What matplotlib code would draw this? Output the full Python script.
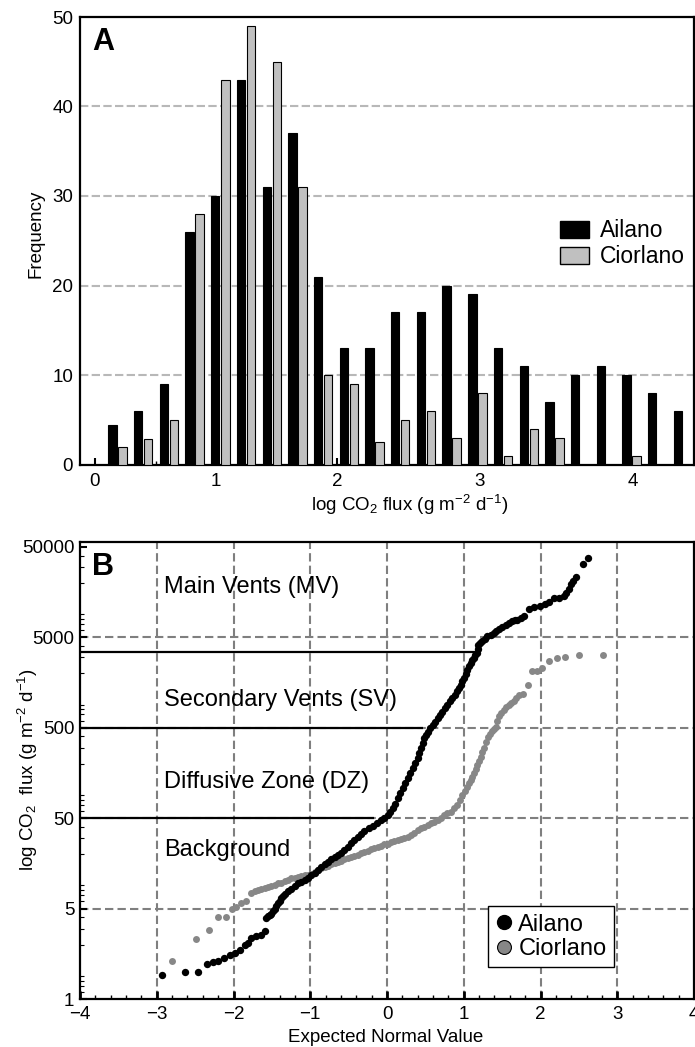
import numpy as np
import matplotlib
matplotlib.use("Agg")
import matplotlib.pyplot as plt
from matplotlib.patches import Patch
from matplotlib.lines import Line2D
from matplotlib.ticker import FixedLocator, MultipleLocator, NullFormatter

plt.rcParams["font.family"] = ["Liberation Sans", "DejaVu Sans"]
plt.rcParams["mathtext.fontset"] = "custom"
plt.rcParams["mathtext.rm"] = "Liberation Sans"
plt.rcParams["mathtext.it"] = "Liberation Sans:italic"
plt.rcParams["mathtext.bf"] = "Liberation Sans:bold"

# ============================
# Donnees – A : histogramme des flux
# ============================
ailano_freq = [4.4, 6, 9, 26, 30, 43, 31, 37, 21, 13, 13, 17,
               17, 20, 19, 13, 11, 7, 10, 11, 10, 8, 6]
ciorlano_freq = [2, 2.8, 5, 28, 43, 49, 45, 31, 10, 9, 2.5, 5,
                 6, 3, 8, 1, 4, 3, 0, 0, 1, 0, 0]
bin_ticks = [-0.88, 3.84, 8.55, 14.07, 20.03]
bin_tick_labels = ["0", "1", "2", "3", "4"]

# ============================
# Donnees – B : droite de Henry (valeur normale attendue)
# ============================
ailano_q = [-2.935, -2.632, -2.468, -2.351, -2.264, -2.199, -2.121, -2.048,
            -1.983, -1.918, -1.853, -1.810, -1.766, -1.701, -1.636, -1.593,
            -1.571, -1.550, -1.528, -1.506, -1.485, -1.463, -1.442, -1.420,
            -1.398, -1.377, -1.355, -1.333, -1.290, -1.247, -1.204, -1.160,
            -1.117, -1.074, -1.030, -0.987, -0.944, -0.900, -0.857, -0.814,
            -0.770, -0.727, -0.684, -0.641, -0.598, -0.554, -0.511, -0.468,
            -0.425, -0.381, -0.338, -0.294, -0.240, -0.186, -0.132, -0.078,
            -0.035, 0.009, 0.041, 0.074, 0.106, 0.139, 0.171, 0.203,
            0.236, 0.268, 0.300, 0.333, 0.365, 0.398, 0.420, 0.442,
            0.463, 0.485, 0.507, 0.528, 0.560, 0.593, 0.625, 0.658,
            0.690, 0.723, 0.755, 0.788, 0.820, 0.853, 0.885, 0.918,
            0.940, 0.961, 0.983, 1.004, 1.026, 1.048, 1.070, 1.091,
            1.113, 1.134, 1.152, 1.169, 1.180, 1.190, 1.216, 1.242,
            1.275, 1.307, 1.350, 1.394, 1.426, 1.459, 1.502, 1.545,
            1.589, 1.632, 1.665, 1.697, 1.740, 1.784, 1.848, 1.913,
            1.991, 2.065, 2.113, 2.182, 2.238, 2.303, 2.338, 2.368,
            2.398, 2.424, 2.459, 2.554, 2.619]
ailano_flux = [0.91, 0.99, 0.99, 1.22, 1.28, 1.30, 1.42, 1.52,
               1.61, 1.76, 1.96, 2.08, 2.36, 2.47, 2.58, 2.80,
               3.9, 4.1, 4.2, 4.4, 4.7, 5.0, 5.3, 5.7,
               6.1, 6.5, 6.9, 7.3, 7.8, 8.3, 8.9, 9.5,
               9.9, 10.3, 11.0, 11.7, 12.5, 13.3, 14.3, 15.4,
               16.5, 17.6, 18.5, 19.5, 20.8, 22.1, 24.1, 26.3,
               28.6, 31.1, 33.5, 36.0, 38.5, 41.2, 44.3, 47.6,
               50.7, 54.1, 58.8, 64.1, 72.5, 82.8, 94, 107,
               121, 138, 157, 178, 203, 230, 262, 297,
               337, 383, 417, 453, 493, 537, 585, 637,
               693, 755, 823, 896, 975, 1060, 1155, 1260,
               1370, 1490, 1625, 1770, 1970, 2190, 2390, 2600,
               2770, 2950, 3150, 3350, 3700, 4070, 4280, 4510,
               4810, 5130, 5350, 5580, 5900, 6240, 6560, 6900,
               7200, 7510, 7670, 7840, 8180, 8530, 10400, 10700,
               11200, 11800, 12300, 13600, 13600, 14200, 15500, 17300,
               19200, 21200, 23100, 32700, 37800]

ciorlano_q = [-2.797, -2.489, -2.320, -2.199, -2.104, -2.026, -1.961, -1.896,
              -1.831, -1.766, -1.723, -1.680, -1.636, -1.593, -1.550, -1.506,
              -1.463, -1.420, -1.377, -1.333, -1.290, -1.247, -1.204, -1.160,
              -1.117, -1.074, -1.030, -0.987, -0.944, -0.900, -0.857, -0.814,
              -0.770, -0.727, -0.684, -0.641, -0.598, -0.554, -0.511, -0.468,
              -0.425, -0.381, -0.338, -0.294, -0.251, -0.208, -0.165, -0.121,
              -0.078, -0.035, 0.009, 0.052, 0.095, 0.139, 0.182, 0.225,
              0.268, 0.312, 0.355, 0.398, 0.441, 0.485, 0.528, 0.571,
              0.615, 0.658, 0.701, 0.745, 0.788, 0.831, 0.875, 0.918,
              0.950, 0.983, 1.015, 1.048, 1.070, 1.091, 1.113, 1.134,
              1.156, 1.177, 1.199, 1.221, 1.242, 1.264, 1.290, 1.316,
              1.344, 1.372, 1.394, 1.416, 1.438, 1.459, 1.490, 1.524,
              1.556, 1.589, 1.620, 1.654, 1.687, 1.719, 1.775, 1.840,
              1.892, 1.957, 2.022, 2.108, 2.216, 2.325, 2.498, 2.810]
ciorlano_flux = [1.30, 2.31, 2.9, 4.0, 4.0, 5.0, 5.2, 5.8,
                 6.1, 7.5, 7.8, 8.0, 8.3, 8.5, 8.7, 8.9,
                 9.2, 9.5, 9.7, 10.0, 10.4, 10.8, 11.0, 11.2,
                 11.4, 11.7, 11.9, 12.2, 12.7, 13.3, 13.9, 14.5,
                 14.9, 15.4, 15.9, 16.5, 17.0, 17.6, 18.1, 18.7,
                 19.2, 19.8, 20.5, 21.2, 21.9, 22.7, 23.4, 24.1,
                 24.8, 25.6, 26.2, 26.9, 27.7, 28.6, 29.2, 29.9,
                 31.1, 32.5, 34.6, 36.9, 38.5, 40.2, 42.0, 43.8,
                 45.6, 47.6, 50.7, 54.1, 56.4, 58.9, 64, 69.8,
                 79, 90, 100, 111, 121, 132, 144, 157,
                 174, 194, 216, 240, 267, 296, 345, 399,
                 428, 454, 485, 515, 590, 666, 730, 789,
                 845, 896, 935, 977, 1060, 1140, 1180, 1490,
                 2100, 2100, 2290, 2760, 2950, 3030, 3160, 3210]

zone_limits = [3430, 500, 50]
zone_ends = [1.17, 0.47, -0.17]
zone_names = ["Main Vents (MV)", "Secondary Vents (SV)", "Diffusive Zone (DZ)", "Background"]
zone_label_y = [17900, 1020, 127, 22]
flux_ticks = [0.5, 5, 50, 500, 5000, 50000]
flux_tick_labels = ["1", "5", "50", "500", "5000", "50000"]

W, H = 695, 1047
fig = plt.figure(figsize=(W / 100, H / 100), dpi=100)

# ============================
# Panneau A
# ============================
ax1 = fig.add_axes([80 / W, 1 - 464.5 / H, 614 / W, 447.5 / H])
idx = np.arange(len(ailano_freq))
ax1.bar(idx - 0.195, ailano_freq, width=0.325, color="black", edgecolor="black", lw=0.8, zorder=3)
ax1.bar(idx + 0.195, ciorlano_freq, width=0.325, color="#c0c0c0", edgecolor="black", lw=0.8, zorder=3)
for v in [10, 20, 30, 40]:
    ax1.axhline(v, color="#b8b8b8", ls=(0, (4, 1.6)), lw=1.5, zorder=1)
ax1.set_xlim(-1.46, 22.43)
ax1.set_ylim(0, 50)
ax1.set_yticks(range(0, 51, 10))
ax1.set_xticks(bin_ticks, bin_tick_labels)
ax1.xaxis.set_minor_locator(FixedLocator([(a + b) / 2 for a, b in zip(bin_ticks[:-1], bin_ticks[1:])]))
ax1.tick_params(axis="x", direction="in", length=5, width=1.5, labelsize=13.5, pad=6)
ax1.tick_params(axis="x", which="minor", direction="in", length=3, width=1)
ax1.tick_params(axis="y", length=0, labelsize=13.5, pad=5)
for s in ax1.spines.values():
    s.set_linewidth(1.6)
ax1.text(0.0195, 0.978, "A", transform=ax1.transAxes, fontsize=22, fontweight="bold", va="top")
ax1.legend(handles=[Patch(facecolor="black", edgecolor="black", label="Ailano"),
                    Patch(facecolor="#c0c0c0", edgecolor="black", label="Ciorlano")],
           loc="center left", bbox_to_anchor=(0.782, 0.493), frameon=False, fontsize=16.5,
           handlelength=1.27, handleheight=0.79, handletextpad=0.48, labelspacing=0.14,
           borderpad=0, borderaxespad=0)
fig.text(36 / W, 1 - 234 / H, "Frequency", rotation=90, ha="center", va="center", fontsize=13.5)
fig.text(410 / W, 1 - 505 / H, "log CO$_2$ flux (g m$^{-2}$ d$^{-1}$)", ha="center", va="center", fontsize=13.5)

# ============================
# Panneau B
# ============================
ax2 = fig.add_axes([80 / W, 1 - 999 / H, 614 / W, 457.3 / H])
ax2.set_yscale("log")
ax2.set_xlim(-4, 4)
ax2.set_ylim(0.5, 57000)
for x in [-3, -2, -1, 0, 1, 2, 3]:
    ax2.axvline(x, color="#7f7f7f", ls=(0, (4, 2)), lw=1.5, zorder=1)
for y in [5, 50, 500, 5000]:
    ax2.axhline(y, color="#7f7f7f", ls=(0, (4, 2)), lw=1.5, zorder=1)
ax2.hlines(zone_limits, -4, zone_ends, color="black", lw=1.6, zorder=2)
for name, y in zip(zone_names, zone_label_y):
    ax2.text(-2.91, y, name, fontsize=17, va="center", zorder=2)
ax2.plot(ciorlano_q, ciorlano_flux, "o", color="#878787", ms=5, mew=0, zorder=3)
ax2.plot(ailano_q, ailano_flux, "o", color="black", ms=5.3, mew=0, zorder=4)

ax2.yaxis.set_major_locator(FixedLocator(flux_ticks))
ax2.set_yticklabels(flux_tick_labels)
ax2.yaxis.set_minor_formatter(NullFormatter())
ax2.set_xticks(range(-4, 5))
ax2.xaxis.set_minor_locator(MultipleLocator(0.2))
ax2.tick_params(axis="x", direction="in", length=6, width=2, labelsize=13.5, pad=5)
ax2.tick_params(axis="x", which="minor", direction="in", length=3, width=1)
ax2.tick_params(axis="y", direction="in", length=5, width=1.5, labelsize=13.5, pad=4)
ax2.tick_params(axis="y", which="minor", direction="in", length=3, width=0.8)
for s in ax2.spines.values():
    s.set_linewidth(1.6)
ax2.text(0.0195, 0.978, "B", transform=ax2.transAxes, fontsize=22, fontweight="bold", va="top")
ax2.legend(handles=[Line2D([], [], marker="o", ls="", color="black", ms=10, label="Ailano"),
                    Line2D([], [], marker="o", ls="", mfc="#878787", mec="black", mew=0.8, ms=10, label="Ciorlano")],
           loc="lower left", bbox_to_anchor=(0.664, 0.070), borderaxespad=0, fontsize=17,
           handlelength=0.8, handletextpad=0.2, borderpad=0.3, labelspacing=0.1,
           fancybox=False, framealpha=1, edgecolor="black")
ax2.get_legend().get_frame().set_linewidth(1.0)
fig.text(28 / W, 1 - 770 / H, "log CO$_2$  flux (g m$^{-2}$ d$^{-1}$)", rotation=90,
         ha="center", va="center", fontsize=13.5)
fig.text(386 / W, 1 - 1037 / H, "Expected Normal Value", ha="center", va="center", fontsize=13.5)

fig.savefig("out.png", dpi=100)
